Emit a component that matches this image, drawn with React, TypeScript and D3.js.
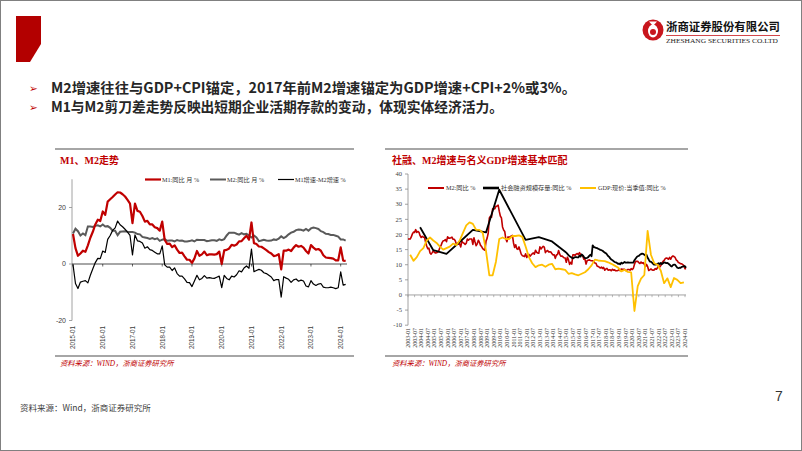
import React from "react";
import * as d3 from "d3";

// ---------- DATA ----------
// M2 yoy (%), monthly from 2003-01
const m2Start = "2003-01";
const m2Yoy = [
  18.5, 18.5, 18.5, 19.2, 20.2, 20.8, 20.7, 21.6, 20.7, 21.0, 20.7, 19.6,
  19.0, 19.4, 19.1, 19.1, 17.5, 16.2, 15.3, 15.5, 13.9, 13.5, 14.0, 14.6,
  14.1, 13.9, 14.0, 14.1, 14.6, 15.7, 16.3, 17.3, 17.9, 18.0, 18.3, 17.6,
  19.2, 18.8, 18.8, 18.9, 19.1, 18.4, 18.4, 17.9, 16.8, 17.1, 16.8, 16.9,
  15.9, 17.8, 17.3, 17.1, 16.7, 17.1, 18.5, 18.1, 18.5, 18.5, 18.5, 16.7,
  18.9, 17.5, 16.3, 16.9, 18.1, 17.4, 16.4, 16.0, 15.3, 15.0, 14.8, 17.8,
  18.8, 20.5, 25.5, 26.0, 25.7, 28.5, 28.4, 28.5, 29.3, 29.4, 29.7, 27.7,
  26.1, 25.5, 22.5, 21.5, 21.0, 18.5, 17.6, 19.2, 19.0, 19.3, 19.5, 19.7,
  17.2, 15.7, 16.6, 15.3, 15.1, 15.9, 14.7, 13.5, 13.0, 12.9, 12.7, 13.6,
  12.4, 13.0, 13.4, 12.8, 13.2, 13.6, 13.9, 13.5, 14.8, 14.1, 13.9, 13.8,
  15.9, 15.2, 15.7, 16.1, 15.8, 14.0, 14.5, 14.7, 14.2, 14.3, 14.2, 13.6,
  13.2, 13.3, 12.1, 13.2, 13.4, 14.7, 13.5, 12.8, 12.9, 12.6, 12.3, 12.2,
  10.8, 12.5, 11.6, 10.1, 10.8, 10.2, 13.3, 13.3, 13.1, 13.5, 13.7, 13.3,
  14.0, 13.3, 13.4, 12.8, 11.8, 11.8, 10.2, 11.4, 11.5, 11.6, 11.4, 11.3,
  11.3, 11.1, 10.6, 10.5, 9.6, 9.4, 9.2, 8.9, 9.2, 8.8, 9.1, 8.2,
  8.6, 8.8, 8.2, 8.3, 8.3, 8.0, 8.5, 8.2, 8.3, 8.0, 8.0, 8.1,
  8.4, 8.0, 8.6, 8.5, 8.5, 8.5, 8.1, 8.2, 8.4, 8.4, 8.2, 8.7,
  8.4, 8.8, 10.1, 11.1, 11.1, 11.1, 10.7, 10.4, 10.9, 10.5, 10.7, 10.1,
  9.4, 10.1, 9.4, 8.1, 8.3, 8.6, 8.3, 8.2, 8.3, 8.7, 8.5, 9.0,
  9.8, 9.2, 9.7, 10.5, 11.1, 11.4, 12.0, 12.2, 12.1, 11.8, 12.4, 11.8,
  12.6, 12.9, 12.7, 12.4, 11.6, 11.3, 10.7, 10.6, 10.3, 10.3, 10.0, 9.7,
  8.7, 8.7, 8.3,
];

// M1 yoy (%), monthly from 2015-01
const m1Start = "2015-01";
const m1Yoy = [
  10.6, 5.6, 2.9, 3.7, 4.7, 4.3, 6.6, 9.3, 11.4, 14.0, 15.7, 15.2,
  18.6, 17.4, 22.1, 22.9, 23.7, 24.6, 25.4, 25.3, 24.7, 23.9, 22.7, 21.4,
  14.5, 21.4, 18.8, 18.5, 17.0, 15.0, 15.3, 14.0, 14.0, 13.0, 12.7, 11.8,
  15.0, 8.5, 7.1, 7.2, 6.0, 6.6, 5.1, 3.9, 4.0, 2.7, 1.5, 1.5,
  0.4, 2.0, 4.6, 2.9, 3.4, 4.4, 3.1, 3.4, 3.4, 3.3, 3.5, 4.4,
  0.0, 4.8, 5.0, 5.5, 6.8, 6.5, 6.9, 8.0, 8.1, 9.1, 10.0, 8.6,
  14.7, 7.4, 7.1, 6.2, 6.1, 5.5, 4.9, 4.2, 3.7, 2.8, 3.0, 3.5,
  -1.9, 4.7, 4.7, 5.1, 4.6, 5.8, 6.7, 6.1, 6.4, 5.8, 4.6, 3.7,
  6.7, 5.8, 5.1, 5.3, 4.7, 3.1, 2.3, 2.2, 2.1, 1.9, 1.3, 1.3,
  5.9, 1.2, 1.1,
];

// Total social financing stock yoy (%): annual points then monthly
const tsfAnnualDates = ["2003-12", "2004-12", "2005-12", "2006-12", "2007-12", "2008-12", "2009-12", "2011-12", "2012-12", "2013-12", "2014-12"];
const tsfAnnualValues = [22.4, 14.8, 13.6, 17.5, 21.5, 20.7, 34.8, 18.2, 19.1, 17.7, 14.3];
const tsfMonthlyStart = "2015-01";
const tsfMonthlyValues = [
  14.0, 13.6, 13.2, 12.8, 12.6, 12.3, 12.1, 12.3, 12.5, 12.5, 12.4, 12.4,
  13.0, 12.7, 13.4, 13.1, 12.6, 12.2, 12.2, 12.3, 12.5, 13.0, 13.3, 12.8,
  16.4, 15.9, 15.7, 15.6, 15.5, 15.3, 15.1, 14.9, 14.8, 14.6, 14.3, 14.0,
  13.8, 13.4, 12.9, 12.6, 12.1, 11.7, 11.5, 11.2, 10.9, 10.8, 10.6, 10.3,
  10.4, 10.1, 10.7, 10.4, 10.6, 10.9, 10.7, 10.7, 10.8, 10.7, 10.7, 10.7,
  10.7, 10.7, 11.5, 12.0, 12.5, 12.8, 12.9, 13.3, 13.5, 13.7, 13.6, 13.3,
  13.0, 13.3, 12.3, 11.7, 11.0, 11.0, 10.7, 10.3, 10.0, 10.0, 10.1, 10.3,
  10.5, 10.2, 10.6, 10.2, 10.5, 10.8, 10.7, 10.5, 10.6, 10.3, 10.0, 9.6,
  9.4, 9.9, 10.0, 10.0, 9.5, 9.0, 8.9, 9.0, 9.0, 9.3, 9.4, 9.5,
  9.5, 9.0,
];

// Nominal GDP quarterly yoy (%), from 2003Q1 (plotted at quarter-end month)
const gdpStart = "2003-03";
const gdpNominalYoy = [
  13.3, 11.3, 12.5, 14.5,
  15.5, 18.0, 19.0, 18.0,
  17.2, 16.0, 15.0, 15.5,
  16.0, 17.0, 16.5, 18.0,
  20.5, 23.0, 24.0, 23.5,
  21.5, 21.5, 20.5, 14.5,
  6.5, 6.5, 11.0, 18.5,
  19.0, 18.5, 18.5, 19.5,
  19.5, 19.7, 19.2, 16.0,
  12.5, 10.5, 9.2, 9.8,
  10.0, 9.3, 10.0, 10.3,
  8.5, 8.7, 8.5, 8.3,
  7.0, 7.2, 6.8, 6.5,
  7.0, 7.5, 8.5, 9.8,
  11.7, 11.4, 11.3, 11.2,
  10.8, 10.3, 9.7, 9.1,
  7.8, 8.3, 7.6, 7.5,
  -5.3, 2.9, 5.4, 6.6,
  21.2, 13.3, 10.5, 10.0,
  8.0, 3.9, 5.5, 2.6,
  5.6, 5.0, 3.9, 4.2,
];

const leftYears = [2015, 2016, 2017, 2018, 2019, 2020, 2021, 2022, 2023, 2024];
const leftYTicks = [-20, 0, 20];
const rightYTicks = [-10, -5, 0, 5, 10, 15, 20, 25, 30, 35, 40];
const rightLabelYears = d3.range(2003, 2025);

const bullets = [
  "M2增速往往与GDP+CPI锚定，2017年前M2增速锚定为GDP增速+CPI+2%或3%。",
  "M1与M2剪刀差走势反映出短期企业活期存款的变动，体现实体经济活力。",
];
const bulletWidths = [525, 452];

// ---------- HELPERS ----------
const monthIndex = (s: string) => {
  const [y, m] = s.split("-").map(Number);
  return (y - 2003) * 12 + (m - 1);
};

type P = { t: number; v: number };

const RED = "#C00000";
const SERIF = "'Liberation Serif', 'Noto Sans CJK SC', serif";
const SANS = "'Liberation Sans', 'Noto Sans CJK SC', sans-serif";
const CJK = "'Noto Sans CJK SC', sans-serif";

function LeftChart() {
  const m2Off = monthIndex(m1Start) - monthIndex(m2Start);
  const x = d3.scaleLinear().domain([0, 108]).range([73, 340.7]);
  const y = d3.scaleLinear().domain([-20, 30]).range([320.5, 179.25]);
  const m1: P[] = m1Yoy.map((v, i) => ({ t: i, v }));
  const m2: P[] = m1Yoy.map((_, i) => ({ t: i, v: m2Yoy[i + m2Off] }));
  const diff: P[] = m1Yoy.map((v, i) => ({ t: i, v: +(v - m2Yoy[i + m2Off]).toFixed(1) }));
  const line = d3.line<P>().x((d) => x(d.t)).y((d) => y(d.v));
  const legend = [
    { x: 145, color: RED, w: 2.2, label: "M1:同比 月 %" },
    { x: 210, color: "#5A5A5A", w: 2, label: "M2:同比 月 %" },
    { x: 278, color: "#000", w: 1.2, label: "M1增速-M2增速 %" },
  ];
  return (
    <g>
      <line x1={55} x2={354} y1={149} y2={149} stroke="#A6A6A6" strokeWidth={2} />
      <text x={60} y={164} fontFamily={SERIF} fontWeight="bold" fontSize={10} fill={RED}>M1、M2走势</text>
      {legend.map((l) => (
        <g key={l.label}>
          <line x1={l.x} x2={l.x + 16} y1={179.5} y2={179.5} stroke={l.color} strokeWidth={l.w} />
          <text x={l.x + 17} y={181.7} fontFamily={SERIF} fontSize={6.2} fill="#333">{l.label}</text>
        </g>
      ))}
      <line x1={72} x2={72} y1={y(30)} y2={y(-20)} stroke="#8C8C8C" strokeWidth={0.8} />
      {leftYTicks.map((t) => (
        <g key={t}>
          <line x1={69} x2={72} y1={y(t)} y2={y(t)} stroke="#8C8C8C" strokeWidth={0.8} />
          <text x={66} y={y(t) + 2.4} textAnchor="end" fontFamily={SANS} fontSize={7} fill="#404040">{t}</text>
        </g>
      ))}
      <line x1={72} x2={347} y1={y(0)} y2={y(0)} stroke="#000" strokeWidth={0.7} />
      {leftYears.map((yr) => {
        const xx = x((yr - 2015) * 12);
        return (
          <g key={yr}>
            <line x1={xx} x2={xx} y1={y(0)} y2={y(0) + 2.5} stroke="#000" strokeWidth={0.6} />
            <text transform={`translate(${xx + 2.3},326) rotate(-90)`} textAnchor="end" fontFamily={SANS} fontSize={6.3} fill="#404040">{`${yr}-01`}</text>
          </g>
        );
      })}
      <path d={line(m2) || ""} fill="none" stroke="#5A5A5A" strokeWidth={2} />
      <path d={line(m1) || ""} fill="none" stroke={RED} strokeWidth={2.2} strokeLinejoin="round" />
      <path d={line(diff) || ""} fill="none" stroke="#000" strokeWidth={1.2} strokeLinejoin="round" />
      <line x1={55} x2={354} y1={356} y2={356} stroke="#A6A6A6" strokeWidth={2} />
      <text x={60} y={366} fontFamily={SERIF} fontStyle="italic" fontSize={7.3} fill={RED}>资料来源：WIND，浙商证券研究所</text>
    </g>
  );
}

function RightChart() {
  const x = d3.scaleLinear().domain([0, 252]).range([408, 685]);
  const y = d3.scaleLinear().domain([-10, 40]).range([325.2, 174]);
  const line = d3.line<P>().x((d) => x(d.t)).y((d) => y(d.v));
  const s0 = monthIndex(m2Start);
  const m2: P[] = m2Yoy.slice(0, 254).map((v, i) => ({ t: s0 + i, v }));
  const tsf: P[] = [
    ...tsfAnnualDates.map((d, i) => ({ t: monthIndex(d), v: tsfAnnualValues[i] })),
    ...tsfMonthlyValues.map((v, i) => ({ t: monthIndex(tsfMonthlyStart) + i, v })),
  ];
  const g0 = monthIndex(gdpStart);
  const gdp: P[] = gdpNominalYoy.map((v, i) => ({ t: g0 + i * 3, v }));
  const labels: { t: number; s: string }[] = [];
  rightLabelYears.forEach((yr) => {
    labels.push({ t: (yr - 2003) * 12, s: `${yr}-01` });
    if (yr < 2024) labels.push({ t: (yr - 2003) * 12 + 6, s: `${yr}-07` });
  });
  const legend = [
    { x: 428, color: RED, w: 2, label: "M2:同比 %" },
    { x: 483, color: "#000", w: 2.6, label: "社会融资规模存量:同比 %" },
    { x: 580, color: "#FFC000", w: 2, label: "GDP:现价:当季值:同比 %" },
  ];
  return (
    <g>
      <line x1={385} x2={688} y1={149} y2={149} stroke="#A6A6A6" strokeWidth={2} />
      <text x={392} y={164} fontFamily={SERIF} fontWeight="bold" fontSize={10} fill={RED}>社融、M2增速与名义GDP增速基本匹配</text>
      <line x1={408} x2={408} y1={y(40)} y2={y(-10)} stroke="#8C8C8C" strokeWidth={0.8} />
      {rightYTicks.map((t) => (
        <g key={t}>
          <line x1={405} x2={408} y1={y(t)} y2={y(t)} stroke="#8C8C8C" strokeWidth={0.8} />
          <text x={402} y={y(t) + 2.2} textAnchor="end" fontFamily={SERIF} fontSize={6.5} fill="#404040">{t}</text>
        </g>
      ))}
      <line x1={408} x2={686} y1={y(0)} y2={y(0)} stroke="#8C8C8C" strokeWidth={0.8} />
      {labels.map((l) => (
        <g key={l.s}>
          <line x1={x(l.t)} x2={x(l.t)} y1={y(0)} y2={y(0) + 2.2} stroke="#8C8C8C" strokeWidth={0.6} />
          <text transform={`translate(${x(l.t) + 2},328) rotate(-90)`} textAnchor="end" fontFamily={SERIF} fontSize={5.9} fill="#333">{l.s}</text>
        </g>
      ))}
      {legend.map((l) => (
        <g key={l.label}>
          <line x1={l.x} x2={l.x + 16} y1={188} y2={188} stroke={l.color} strokeWidth={l.w} />
          <text x={l.x + 18} y={190.2} fontFamily={SERIF} fontSize={6.2} fill="#333">{l.label}</text>
        </g>
      ))}
      <path d={line(m2) || ""} fill="none" stroke={RED} strokeWidth={1.6} strokeLinejoin="round" />
      <path d={line(tsf) || ""} fill="none" stroke="#000" strokeWidth={1.8} strokeLinejoin="round" />
      <path d={line(gdp) || ""} fill="none" stroke="#FFC000" strokeWidth={1.8} strokeLinejoin="round" />
      <line x1={385} x2={688} y1={356} y2={356} stroke="#A6A6A6" strokeWidth={2} />
      <text x={392} y={366} fontFamily={SERIF} fontStyle="italic" fontSize={7.3} fill={RED}>资料来源：WIND，浙商证券研究所</text>
    </g>
  );
}

export default function App() {
  return (
    <div style={{ position: "fixed", left: 0, top: 0, width: 802, height: 451, background: "#fff" }}>
      <svg width={802} height={451} viewBox="0 0 802 451" style={{ display: "block" }}>
        <rect x={0} y={0} width={802} height={451} fill="#fff" />
        <rect x={0.5} y={0.5} width={801} height={450} fill="none" stroke="#808080" strokeWidth={1} />
        {/* red corner block */}
        <polygon points="16,16 41,16 41,44 30,62 16,62" fill="#B30000" />
        {/* logo */}
        <g>
          <circle cx={653} cy={30} r={10.5} fill="#C8161D" />
          <ellipse cx={653} cy={31} rx={5} ry={6.5} fill="#fff" />
          <circle cx={653} cy={32} r={3} fill="#C8161D" />
          <path d="M649,21.5 L653,26 L657,21.5 Z" fill="#fff" />
          <text x={666} y={31} fontFamily={CJK} fontWeight="bold" fontSize={11.4} fill="#111">浙商证券股份有限公司</text>
          <line x1={666} x2={780} y1={35.5} y2={35.5} stroke="#C8161D" strokeWidth={0.8} />
          <text x={666} y={43} fontFamily={SERIF} fontSize={6} fill="#222" textLength={112} lengthAdjust="spacingAndGlyphs">ZHESHANG SECURITIES CO.LTD</text>
        </g>
        {/* bullets */}
        {bullets.map((b, i) => (
          <g key={i}>
            <text x={29} y={92 + i * 18.5} fontFamily="'DejaVu Sans', sans-serif" fontSize={10.5} fill={RED}>➢</text>
            <text x={51} y={93 + i * 18.5} fontFamily={CJK} fontWeight="bold" fontSize={14} fill="#262626" textLength={bulletWidths[i]} lengthAdjust="spacingAndGlyphs">{b}</text>
          </g>
        ))}
        <LeftChart />
        <RightChart />
        <text x={20} y={411} fontFamily={CJK} fontSize={8.5} fill="#404040">资料来源：Wind，浙商证券研究所</text>
        <text x={775} y={401} fontFamily={SANS} fontSize={14} fill="#333">7</text>
      </svg>
    </div>
  );
}
